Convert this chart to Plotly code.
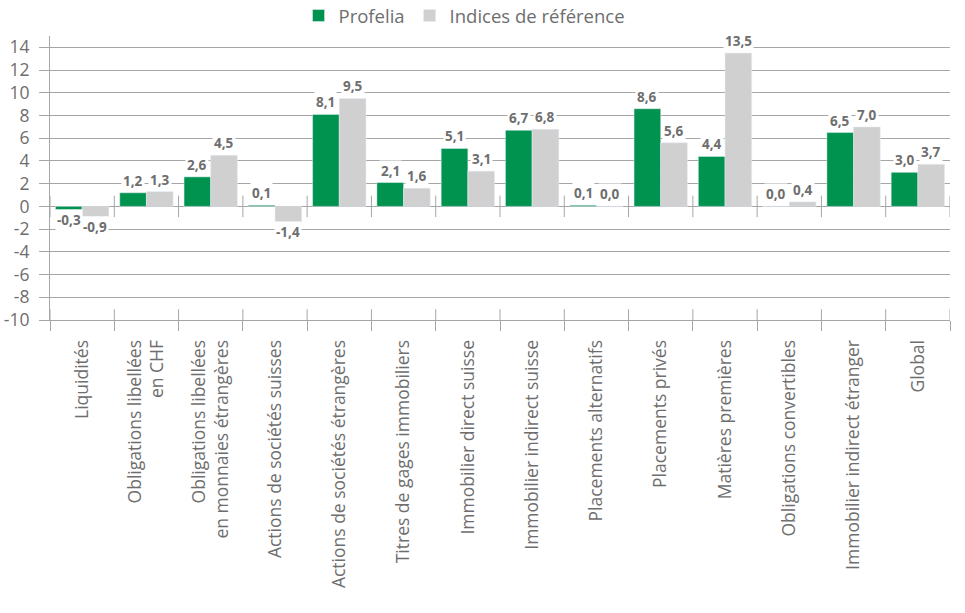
import plotly.graph_objects as go

categories = [
    "Liquidités",
    "Obligations libellées<br>en CHF",
    "Obligations libellées<br>en monnaies étrangères",
    "Actions de sociétés suisses",
    "Actions de sociétés étrangères",
    "Titres de gages immobiliers",
    "Immobilier direct suisse",
    "Immobilier indirect suisse",
    "Placements alternatifs",
    "Placements privés",
    "Matières premières",
    "Obligations convertibles",
    "Immobilier indirect étranger",
    "Global",
]
profelia = [-0.3, 1.2, 2.6, 0.1, 8.1, 2.1, 5.1, 6.7, 0.1, 8.6, 4.4, 0.0, 6.5, 3.0]
indices = [-0.9, 1.3, 4.5, -1.4, 9.5, 1.6, 3.1, 6.8, 0.0, 5.6, 13.5, 0.4, 7.0, 3.7]
y_ticks = list(range(-10, 15, 2))

GREEN = "#00934F"
GREY = "#D0D0D0"
TXT = "#6E6E6E"
GRID = "#A6A6A6"
FONT = "Open Sans"

fig = go.Figure()
fig.add_trace(go.Bar(name="Profelia", x=categories, y=profelia, marker_color=GREEN))
fig.add_trace(go.Bar(name="Indices de référence", x=categories, y=indices, marker_color=GREY))

def fmt(v):
    return f"{v:.1f}".replace(".", ",")

annotations = []
half = 13.3
for series, shift in ((profelia, -half), (indices, half)):
    for cat, v in zip(categories, series):
        neg = v < 0
        annotations.append(dict(
            x=cat, y=v, xref="x", yref="y", xshift=shift,
            yshift=1,
            yanchor="top" if neg else "bottom",
            text=fmt(v), showarrow=False, bgcolor="white",
            borderpad=1,
            font=dict(family=FONT, size=13.5, color=TXT, weight="bold"),
        ))

shapes = []
for i in range(len(categories) + 1):
    b = i - 0.5
    shapes.append(dict(type="line", xref="x", yref="y", x0=b, x1=b, y0=-0.95, y1=0.95,
                       line=dict(color=GRID, width=1), layer="above"))
    shapes.append(dict(type="line", xref="x", yref="y", x0=b, x1=b, y0=-10, y1=-9.05,
                       line=dict(color=GRID, width=1), layer="above"))

fig.update_layout(
    width=965, height=613,
    margin=dict(l=50, r=15, t=36, b=293, autoexpand=False),
    paper_bgcolor="white", plot_bgcolor="white",
    barmode="group", bargap=0.17, bargroupgap=0,
    font=dict(family=FONT, color=TXT),
    showlegend=True,
    legend=dict(orientation="h", xref="paper", yref="paper",
                x=0.4606, xanchor="center", y=1.0704, yanchor="middle",
                font=dict(size=18.5, color=TXT), itemwidth=30,
                traceorder="normal"),
    annotations=annotations,
    shapes=shapes,
)
fig.update_xaxes(
    type="category", tickangle=-90, tickson="boundaries", automargin=False,
    ticks="outside", ticklen=10, tickcolor=GRID, tickwidth=1,
    showline=True, linecolor=GRID, linewidth=1,
    showgrid=False, zeroline=False,
    tickfont=dict(size=17.5, color=TXT, family=FONT),
    ticklabelstandoff=12,
    range=[-0.5, len(categories) - 0.5],
)
fig.update_yaxes(
    range=[-10, 15], tickvals=y_ticks, ticktext=[str(t) for t in y_ticks],
    automargin=False,
    ticks="outside", ticklen=10, tickcolor=GRID, tickwidth=1,
    showline=True, linecolor=GRID, linewidth=1,
    showgrid=True, gridcolor=GRID, gridwidth=1,
    zeroline=True, zerolinecolor=GRID, zerolinewidth=1,
    tickfont=dict(size=17.5, color=TXT, family=FONT),
    ticklabelstandoff=6,
)

fig.write_html("out.html", config={"displayModeBar": False},
               post_script="document.body.style.margin='0';")
